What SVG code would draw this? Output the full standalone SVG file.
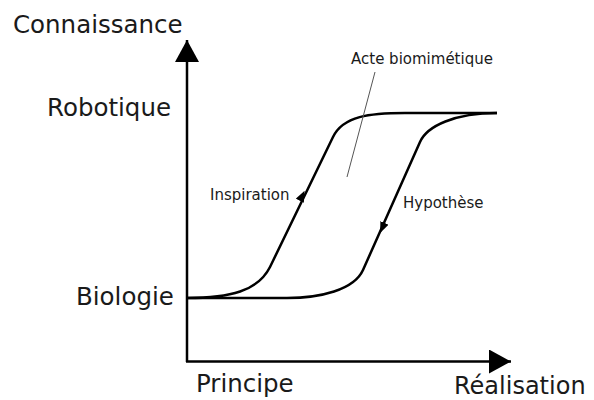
<svg xmlns="http://www.w3.org/2000/svg" width="594" height="400" viewBox="0 0 594 400">
  <style>
    .big { font-family: "DejaVu Sans", "Liberation Sans", sans-serif; font-size: 24.5px; fill: #1a1a1a; }
    .small { font-family: "DejaVu Sans", "Liberation Sans", sans-serif; font-size: 15px; fill: #1a1a1a; }
    .axis { stroke: #000; stroke-width: 2.5; fill: none; }
    .curve { stroke: #000; stroke-width: 2.5; fill: none; stroke-linejoin: round; }
    .leader { stroke: #555; stroke-width: 1; fill: none; }
  </style>
  <defs>
    <marker id="bigArrow" markerUnits="userSpaceOnUse" markerWidth="24" markerHeight="24" viewBox="0 0 22 24" refX="22" refY="12" orient="auto">
      <polygon points="0,0 22,12 0,24" fill="#000"/>
    </marker>
    <marker id="smallArrow" markerUnits="userSpaceOnUse" markerWidth="11" markerHeight="9" viewBox="0 0 11 9" refX="11" refY="4.5" orient="auto">
      <polygon points="0,0 11,4.5 0,9" fill="#000"/>
    </marker>
  </defs>

  <g id="axes">
    <path class="axis" d="M187,362 L187,40" marker-end="url(#bigArrow)"/>
    <path class="axis" d="M186,361.5 L511,361.5" marker-end="url(#bigArrow)"/>
  </g>

  <g id="connectors">
    <path id="inspiration-curve" class="curve" d="M187,298 C230,298 258,291 270,267 L333,137 C343,116 370,113 405,113 L497,113"/>
    <path id="hypothese-curve" class="curve" d="M497,113 C455,113 427,126 420,142 L363,270 C354,290 320,298 287,298 L187,298"/>
    <path d="M300.1,200 L304.6,190.8" fill="none" stroke="none" marker-end="url(#smallArrow)"/>
    <path d="M384.1,223.9 L380.1,233" fill="none" stroke="none" marker-end="url(#smallArrow)"/>
    <path class="leader" d="M375,72 L347,177"/>
  </g>

  <g id="label-connaissance"><text class="big" x="13" y="33">Connaissance</text></g>
  <g id="label-robotique"><text class="big" x="47" y="116">Robotique</text></g>
  <g id="label-biologie"><text class="big" x="76" y="305">Biologie</text></g>
  <g id="label-principe"><text class="big" x="196" y="392">Principe</text></g>
  <g id="label-realisation"><text class="big" x="454" y="394" style="font-size:24px">Réalisation</text></g>
  <g id="label-acte"><text class="small" x="351" y="64">Acte biomimétique</text></g>
  <g id="label-inspiration"><text class="small" x="210" y="200">Inspiration</text></g>
  <g id="label-hypothese"><text class="small" x="403" y="208">Hypothèse</text></g>
</svg>
